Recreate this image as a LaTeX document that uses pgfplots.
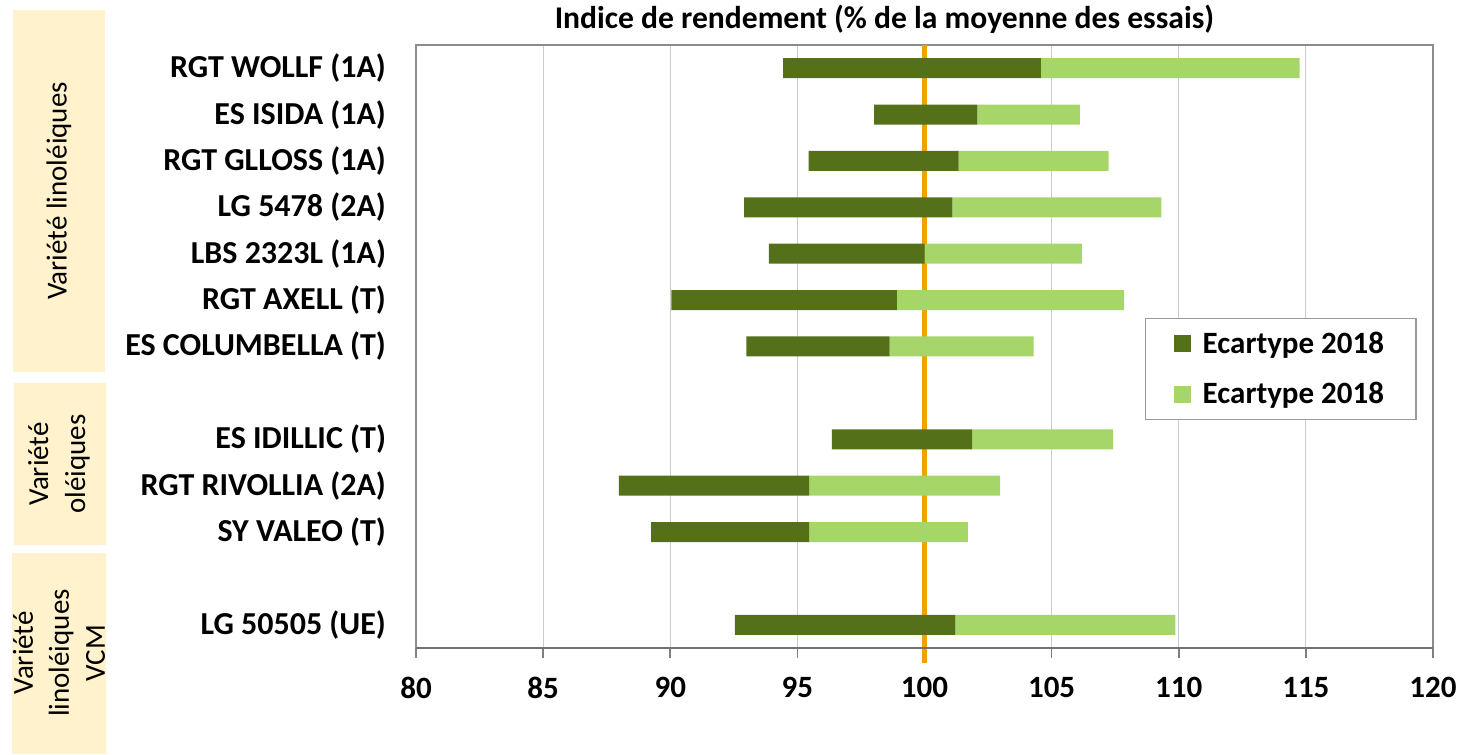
\documentclass[border=0pt]{standalone}
\usepackage{pgfplots}
\usepackage{pgfplotstable}
\pgfplotsset{compat=1.18}
\usepackage{fontspec}
\setmainfont{Carlito}
\definecolor{darkg}{RGB}{84,113,26}
\definecolor{lightg}{RGB}{166,214,106}
\definecolor{orangel}{RGB}{238,164,0}
\definecolor{paley}{RGB}{255,242,204}
\pgfplotstableread{
y lo mid hi
12.5 94.44 104.58 114.75
11.5 98.02 102.08 106.11
10.5 95.44 101.34 107.24
9.5 92.91 101.10 109.32
8.5 93.88 100.00 106.19
7.5 90.04 98.91 107.85
6.5 92.99 98.63 104.29
4.5 96.36 101.87 107.42
3.5 87.98 95.46 102.97
2.5 89.25 95.46 101.71
0.5 92.54 101.21 109.87
}\data
\begin{document}
\begin{tikzpicture}
\path[use as bounding box] (-208pt,-53pt) rectangle (521.5pt,324pt);
% group boxes
\fill[paley] (-201.5pt,319pt) rectangle (-155.5pt,138pt);
\fill[paley] (-201pt,132.5pt) rectangle (-155pt,51.5pt);
\fill[paley] (-202pt,47.5pt) rectangle (-155pt,-53pt);
\node[rotate=90, font=\fontsize{14.5}{17}\selectfont] at (-178.5pt,228.5pt) {Variété linoléiques};
\node[rotate=90, align=center, font=\fontsize{14.5}{18.5}\selectfont] at (-178.5pt,92pt) {Variété\\oléiques};
\node[rotate=90, align=center, font=\fontsize{14.5}{18}\selectfont] at (-178.5pt,-2.5pt) {Variété\\linoléiques\\VCM};
\begin{axis}[
  at={(0pt,0pt)}, anchor=south west,
  scale only axis, width=508.5pt, height=301.5pt,
  xmin=80, xmax=120, ymin=0, ymax=13,
  xbar stacked, bar width=10pt,
  clip=false,
  xtick={80,85,...,120},
  xmajorgrids, grid style={draw=black!20, line width=0.6pt},
  axis line style={draw=black!45, line width=0.7pt},
  xtick pos=lower, xtick align=outside,
  major tick length=5pt,
  every tick/.style={draw=black!50, line width=0.8pt},
  ytick={12.5,11.5,10.5,9.5,8.5,7.5,6.5,4.5,3.5,2.5,0.5},
  yticklabels={RGT WOLLF (1A),ES ISIDA (1A),RGT GLLOSS (1A),LG 5478 (2A),LBS 2323L (1A),RGT AXELL (T),ES COLUMBELLA (T),ES IDILLIC (T),RGT RIVOLLIA (2A),SY VALEO (T),LG 50505 (UE)},
  ytick style={draw=none},
  yticklabel style={font=\bfseries\fontsize{16}{18}\selectfont, anchor=east, xshift=-11.5pt},
  xticklabel style={font=\bfseries\fontsize{15.5}{18}\selectfont, yshift=-6pt},
  /pgf/number format/assume math mode=true,
  legend style={at={(0.7168,0.5473)}, anchor=north west, draw=black!40, line width=0.7pt,
    font=\bfseries\fontsize{15.5}{18}\selectfont, inner xsep=14pt, inner ysep=4.5pt, row sep=9pt,
    /tikz/every odd column/.append style={column sep=4pt}},
  legend cell align=left,
  legend image code/.code={\fill[#1] (0pt,-4.25pt) rectangle (8.5pt,4.25pt);},
]
\addplot[draw=none, fill=none, forget plot] table[y=y, x=lo] {\data};
\addplot[fill=darkg, draw=none] table[y=y, x expr=\thisrow{mid}-\thisrow{lo}] {\data};
\addplot[fill=lightg, draw=none] table[y=y, x expr=\thisrow{hi}-\thisrow{mid}] {\data};
\legend{Ecartype 2018, Ecartype 2018}
\draw[draw=black!55, line width=1.2pt] (rel axis cs:0,0) -- (rel axis cs:1,0);
\draw[orangel, line width=2.6pt] (axis cs:100,13) -- (axis cs:100,-0.32);
\end{axis}
\node[anchor=base, font=\bfseries\fontsize{15.8}{18}\selectfont, inner sep=0pt] at (234.25pt,309.5pt) {Indice de rendement (\% de la moyenne des essais)};
\end{tikzpicture}
\end{document}
